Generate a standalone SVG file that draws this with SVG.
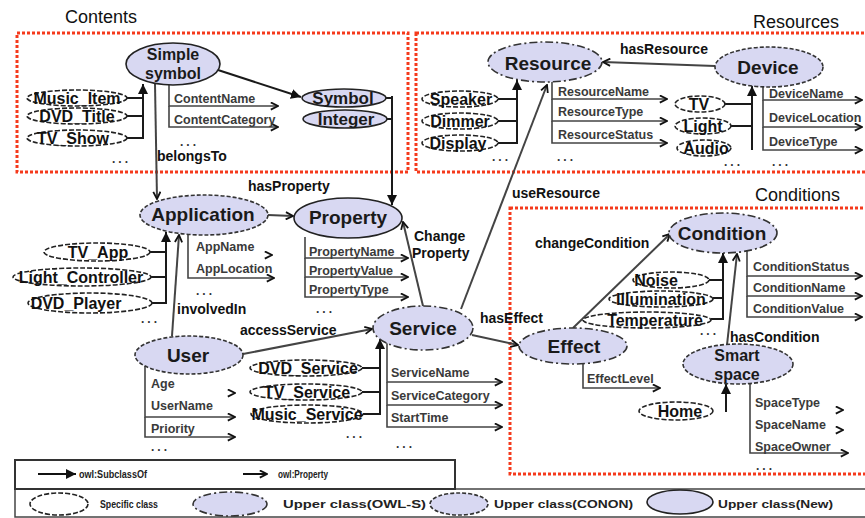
<svg xmlns="http://www.w3.org/2000/svg" width="865" height="518" viewBox="0 0 865 518">
<style>
text{font-family:"Liberation Sans",Arial,sans-serif}
.sec{font-size:18px;fill:#111}
.main{font-size:19px;font-weight:bold;fill:#1a1a1a;text-anchor:middle}
.mid{font-size:16px;font-weight:bold;fill:#1a1a1a;text-anchor:middle}
.spec{font-size:16px;font-weight:bold;fill:#111;text-anchor:middle}
.prop{font-size:12.5px;font-weight:bold;fill:#3a3a3a}
.edge{font-size:14px;font-weight:bold;fill:#111}
.dots{font-size:12px;font-weight:bold;fill:#333;letter-spacing:3px}
.leg{font-size:11px;font-weight:bold;fill:#222}
.box{fill:none;stroke:#f53a1c;stroke-width:3;stroke-dasharray:3 2}
.sp{fill:#fff;stroke:#222;stroke-width:1.6;stroke-dasharray:5 2}
.owls{fill:#d8d8f2;stroke:#333;stroke-width:1.6;stroke-dasharray:8 3 2 3}
.conon{fill:#d8d8f2;stroke:#333;stroke-width:1.6;stroke-dasharray:4 2}
.new{fill:#d8d8f2;stroke:#222;stroke-width:1.6}
.sub{stroke:#1a1a1a;stroke-width:2;fill:none;marker-end:url(#tri)}
.pr{stroke:#444;stroke-width:1.6;fill:none;marker-end:url(#open)}
.rel{stroke:#444;stroke-width:2;fill:none;marker-end:url(#open)}
</style>
<defs>
<marker id="tri" viewBox="0 0 10 10" refX="10" refY="5" markerWidth="10" markerHeight="10" markerUnits="userSpaceOnUse" orient="auto"><path d="M0,0 L10,5 L0,10 z" fill="#111"/></marker>
<marker id="open" viewBox="0 0 10 10" refX="9" refY="5" markerWidth="9" markerHeight="9" markerUnits="userSpaceOnUse" orient="auto"><path d="M1,1 L9,5 L1,9" fill="none" stroke="#111" stroke-width="2"/></marker>
</defs>
<rect width="865" height="518" fill="#fff"/>

<g id="sections">
<rect class="box" x="17" y="33" width="391" height="139"/>
<rect class="box" x="416" y="33" width="460" height="139"/>
<rect class="box" x="510" y="208" width="370" height="266"/>
<text class="sec" x="65" y="23">Contents</text>
<text class="sec" x="753" y="28">Resources</text>
<text class="sec" x="755" y="201">Conditions</text>
</g>

<g id="connectors">
<path class="sub" d="M127,98 H143 M127,116 H143 M127,138 H143 V84"/>
<line class="sub" x1="218" y1="70" x2="301" y2="97"/>
<path class="sub" d="M386,98 H392 M387,119 H392 M392,96 V205"/>
<path class="pr" d="M169,85 V106 H278"/>
<path class="pr" d="M169,106 V127 H278"/>
<line class="rel" x1="155" y1="84" x2="157" y2="199"/>
<path class="sub" d="M497,99 H517 M497,121 H517 M497,143 H517 V80"/>
<path class="pr" d="M552,82 V99 H667"/>
<path class="pr" d="M552,99 V121 H667"/>
<path class="pr" d="M552,121 V143 H667"/>
<line class="rel" x1="715" y1="66" x2="603" y2="62"/>
<path class="sub" d="M725,104 H752 M731,126 H752 M752,150 V86"/>
<path class="pr" d="M763,86 V100 H862"/>
<path class="pr" d="M763,100 V127 H862"/>
<path class="pr" d="M763,127 V150 H862"/>
<line class="rel" x1="268" y1="215" x2="293" y2="216"/>
<path class="sub" d="M150,252 H166 M151,277 H166 M152,303 H166 V232"/>
<line class="rel" x1="172" y1="336" x2="179" y2="235"/>
<path class="pr" d="M271,255 H272"/>
<path class="pr" d="M188,234 V278 H274"/>
<path class="pr" d="M305,237 V258 H408"/>
<path class="pr" d="M305,258 V277 H408"/>
<path class="pr" d="M305,277 V297 H408"/>
<line class="rel" x1="423" y1="306" x2="403" y2="222"/>
<line class="rel" x1="461" y1="309" x2="547" y2="85"/>
<line class="rel" x1="243" y1="354" x2="372" y2="329"/>
<path class="sub" d="M362,368 H380 M362,392 H380 M363,414 H380 V339"/>
<path class="pr" d="M234,393 H235"/>
<path class="pr" d="M145,366 V417 H235"/>
<path class="pr" d="M145,417 V437 H235"/>
<path class="pr" d="M387,343 V382 H502"/>
<path class="pr" d="M387,382 V405 H502"/>
<path class="pr" d="M387,405 V427 H502"/>
<line class="rel" x1="472" y1="335" x2="518" y2="345"/>
<line class="rel" x1="573" y1="328" x2="670" y2="234"/>
<path class="sub" d="M709,280 H723 M713,298 H723 M711,319 H723 V253"/>
<line class="rel" x1="727" y1="345" x2="737" y2="254"/>
<path class="pr" d="M747,251 V276 H862"/>
<path class="pr" d="M747,276 V296 H862"/>
<path class="pr" d="M747,296 V317 H862"/>
<path class="pr" d="M583,364 V388 H660"/>
<line class="sub" x1="726" y1="412" x2="726" y2="384"/>
<path class="pr" d="M842,410 H843"/>
<path class="pr" d="M842,430 H843"/>
<path class="pr" d="M750,383 V453 H848"/>
</g>

<g id="labels">
<text class="prop" x="174" y="103">ContentName</text>
<text class="prop" x="174" y="124">ContentCategory</text>
<text class="edge" x="157" y="161">belongsTo</text>
<text class="prop" x="558" y="96">ResourceName</text>
<text class="prop" x="558" y="116">ResourceType</text>
<text class="prop" x="558" y="139">ResourceStatus</text>
<text class="edge" x="620" y="54">hasResource</text>
<text class="prop" x="769" y="98">DeviceName</text>
<text class="prop" x="769" y="122">DeviceLocation</text>
<text class="prop" x="769" y="146">DeviceType</text>
<text class="edge" x="248" y="191">hasProperty</text>
<text class="prop" x="196" y="251">AppName</text>
<text class="prop" x="196" y="273">AppLocation</text>
<text class="edge" x="177" y="314">involvedIn</text>
<text class="prop" x="309" y="256">PropertyName</text>
<text class="prop" x="309" y="275">PropertyValue</text>
<text class="prop" x="309" y="294">PropertyType</text>
<text class="edge" x="414" y="241">Change</text>
<text class="edge" x="412" y="258">Property</text>
<text class="edge" x="512" y="198">useResource</text>
<text class="edge" x="240" y="335">accessService</text>
<text class="prop" x="151" y="388">Age</text>
<text class="prop" x="151" y="410">UserName</text>
<text class="prop" x="151" y="433">Priority</text>
<text class="prop" x="391" y="377">ServiceName</text>
<text class="prop" x="391" y="400">ServiceCategory</text>
<text class="prop" x="391" y="422">StartTime</text>
<text class="edge" x="480" y="323">hasEffect</text>
<text class="edge" x="535" y="248">changeCondition</text>
<text class="edge" x="730" y="342">hasCondition</text>
<text class="prop" x="753" y="271">ConditionStatus</text>
<text class="prop" x="753" y="292">ConditionName</text>
<text class="prop" x="753" y="313">ConditionValue</text>
<text class="prop" x="587" y="383">EffectLevel</text>
<text class="prop" x="755" y="407">SpaceType</text>
<text class="prop" x="755" y="429">SpaceName</text>
<text class="prop" x="755" y="451">SpaceOwner</text>
<text class="dots" x="112" y="163">...</text>
<text class="dots" x="180" y="146">...</text>
<text class="dots" x="492" y="161">...</text>
<text class="dots" x="557" y="161">...</text>
<text class="dots" x="724" y="166">...</text>
<text class="dots" x="772" y="166">...</text>
<text class="dots" x="196" y="295">...</text>
<text class="dots" x="141" y="323">...</text>
<text class="dots" x="316" y="313">...</text>
<text class="dots" x="151" y="451">...</text>
<text class="dots" x="346" y="438">...</text>
<text class="dots" x="396" y="448">...</text>
<text class="dots" x="700" y="335">...</text>
<text class="dots" x="756" y="470">...</text>
</g>

<g id="n-simple-symbol"><ellipse class="new" cx="173" cy="64" rx="47" ry="21"/><text class="mid" x="173" y="60">Simple</text><text class="mid" x="173" y="79">symbol</text></g>
<g id="n-music-item"><ellipse class="sp" cx="77" cy="98" rx="50" ry="8"/><text class="spec" x="77" y="104">Music_Item</text></g>
<g id="n-dvd-title"><ellipse class="sp" cx="77" cy="116" rx="50" ry="8"/><text class="spec" x="77" y="122">DVD_Title</text></g>
<g id="n-tv-show"><ellipse class="sp" cx="77" cy="138" rx="50" ry="8"/><text class="spec" x="73" y="144">TV_Show</text></g>
<g id="n-symbol"><ellipse class="new" cx="344" cy="98" rx="42" ry="9"/><text class="mid" x="343" y="104" style="font-size:17px">Symbol</text></g>
<g id="n-integer"><ellipse class="new" cx="345" cy="119" rx="42" ry="9"/><text class="mid" x="346" y="125" style="font-size:17px">Integer</text></g>

<g id="n-resource"><ellipse class="owls" cx="545" cy="62" rx="57" ry="20"/><text class="main" x="548" y="70">Resource</text></g>
<g id="n-speaker"><ellipse class="sp" cx="460" cy="99" rx="38" ry="8"/><text class="spec" x="461" y="105">Speaker</text></g>
<g id="n-dimmer"><ellipse class="sp" cx="460" cy="121" rx="38" ry="8"/><text class="spec" x="460" y="127">Dimmer</text></g>
<g id="n-display"><ellipse class="sp" cx="460" cy="143" rx="38" ry="8"/><text class="spec" x="458" y="149">Display</text></g>
<g id="n-device"><ellipse class="conon" cx="769" cy="67" rx="54" ry="20"/><text class="main" x="768" y="74">Device</text></g>
<g id="n-tv"><ellipse class="sp" cx="700" cy="104" rx="25" ry="8"/><text class="spec" x="699" y="110">TV</text></g>
<g id="n-light"><ellipse class="sp" cx="703" cy="126" rx="28" ry="8"/><text class="spec" x="703" y="132">Light</text></g>
<g id="n-audio"><ellipse class="sp" cx="704" cy="148" rx="27" ry="8"/><text class="spec" x="706" y="154">Audio</text></g>

<g id="n-application"><ellipse class="conon" cx="204" cy="215" rx="64" ry="20"/><text class="main" x="203" y="221">Application</text></g>
<g id="n-tv-app"><ellipse class="sp" cx="97" cy="252" rx="53" ry="9"/><text class="spec" x="98" y="258">TV_App</text></g>
<g id="n-light-controller"><ellipse class="sp" cx="82" cy="277" rx="69" ry="9"/><text class="spec" x="81" y="283">Light_Controller</text></g>
<g id="n-dvd-player"><ellipse class="sp" cx="90" cy="303" rx="62" ry="10"/><text class="spec" x="76" y="309">DVD_Player</text></g>
<g id="n-property"><ellipse class="new" cx="348" cy="218" rx="54" ry="20"/><text class="main" x="348" y="224">Property</text></g>

<g id="n-user"><ellipse class="conon" cx="189" cy="355" rx="54" ry="19"/><text class="main" x="188" y="362">User</text></g>
<g id="n-service"><ellipse class="owls" cx="423" cy="328" rx="50" ry="22"/><text class="main" x="423" y="335">Service</text></g>
<g id="n-dvd-service"><ellipse class="sp" cx="306" cy="368" rx="56" ry="8"/><text class="spec" x="308" y="374">DVD_Service</text></g>
<g id="n-tv-service"><ellipse class="sp" cx="306" cy="392" rx="56" ry="8"/><text class="spec" x="307" y="398">TV_Service</text></g>
<g id="n-music-service"><ellipse class="sp" cx="307" cy="414" rx="56" ry="9"/><text class="spec" x="307" y="420">Music_Service</text></g>

<g id="n-condition"><ellipse class="owls" cx="723" cy="233" rx="54" ry="20"/><text class="main" x="722" y="240">Condition</text></g>
<g id="n-noise"><ellipse class="sp" cx="671" cy="280" rx="38" ry="8"/><text class="spec" x="656" y="286">Noise</text></g>
<g id="n-illumination"><ellipse class="sp" cx="661" cy="299" rx="52" ry="8"/><text class="spec" x="661" y="305">Illumination</text></g>
<g id="n-temperature"><ellipse class="sp" cx="647" cy="320" rx="64" ry="8"/><text class="spec" x="655" y="326">Temperature</text></g>
<g id="n-effect"><ellipse class="owls" cx="573" cy="346" rx="54" ry="18"/><text class="main" x="574" y="353">Effect</text></g>
<g id="n-smart-space"><ellipse class="conon" cx="738" cy="364" rx="55" ry="20"/><text class="mid" x="737" y="361">Smart</text><text class="mid" x="737" y="380">space</text></g>
<g id="n-home"><ellipse class="sp" cx="676" cy="411" rx="37" ry="9"/><text class="spec" x="680" y="417">Home</text></g>

<g id="legend">
<rect x="15" y="489" width="860" height="28" fill="none" stroke="#444" stroke-width="1.5"/>
<rect x="15" y="460" width="440" height="29" fill="none" stroke="#333" stroke-width="2"/>
<line x1="38" y1="474" x2="76" y2="474" stroke="#111" stroke-width="2" marker-end="url(#tri)"/>
<text class="leg" x="79" y="478" textLength="68" lengthAdjust="spacingAndGlyphs">owl:SubclassOf</text>
<line x1="243" y1="474" x2="267" y2="474" stroke="#111" stroke-width="2" marker-end="url(#open)"/>
<text class="leg" x="278" y="478" textLength="50" lengthAdjust="spacingAndGlyphs">owl:Property</text>
<ellipse class="sp" cx="59" cy="504" rx="29" ry="11"/>
<text class="leg" x="100" y="508" textLength="58" lengthAdjust="spacingAndGlyphs">Specific class</text>
<ellipse class="owls" cx="230" cy="504" rx="37" ry="12"/>
<text class="leg" x="283" y="508" textLength="143" lengthAdjust="spacingAndGlyphs">Upper class(OWL-S)</text>
<ellipse class="conon" cx="459" cy="504" rx="29" ry="11"/>
<text class="leg" x="494" y="508" textLength="139" lengthAdjust="spacingAndGlyphs">Upper class(CONON)</text>
<ellipse class="new" cx="680" cy="502" rx="33" ry="12"/>
<text class="leg" x="718" y="508" textLength="115" lengthAdjust="spacingAndGlyphs">Upper class(New)</text>
</g>
</svg>
